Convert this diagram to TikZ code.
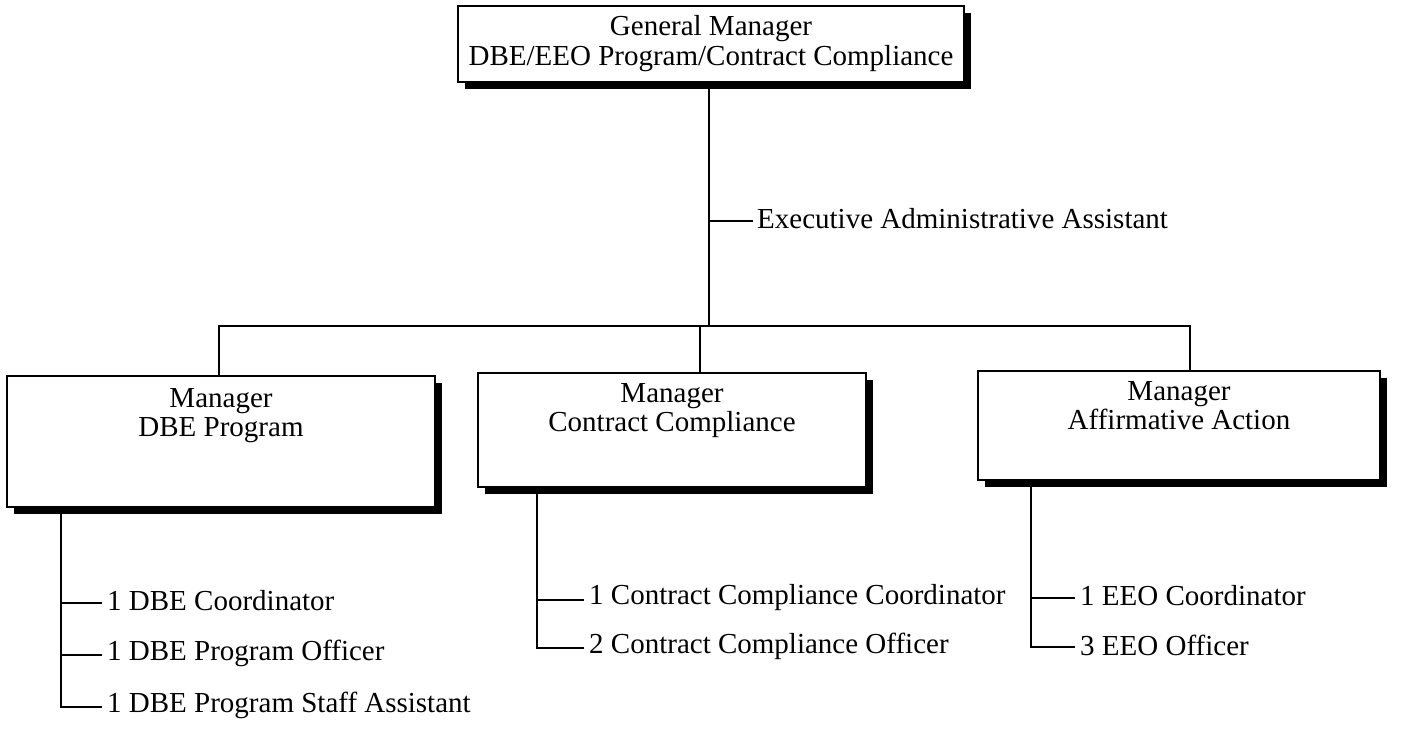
\documentclass[tikz,border=0pt]{standalone}
\usepackage{fontspec}
\setmainfont{Liberation Serif}
\usetikzlibrary{shadows}
\newcommand{\bigfs}{\fontsize{29}{29}\selectfont}
\newcommand{\topfs}{\fontsize{29}{30}\selectfont}
\tikzset{
  orgbox/.style={draw, line width=1.8pt, fill=white, inner sep=0pt, align=center,
    drop shadow={shadow xshift=7pt, shadow yshift=-7pt, fill=black, opacity=1}},
  conn/.style={line width=2.2pt, line cap=rect},
  staff/.style={anchor=west, inner sep=0pt, font=\bigfs}
}
\begin{document}
\begin{tikzpicture}[x=1pt,y=-1pt]
\useasboundingbox (0,0) rectangle (1408,731);
% boxes
\node[orgbox, minimum width=506pt, minimum height=76pt, font=\topfs] (gm) at (711,44)
  {General Manager\\DBE/EEO Program/Contract Compliance};
\node[orgbox, minimum width=428pt, minimum height=131pt] (dbe) at (221,441.5)
  {\parbox[c][131pt][t]{420pt}{\centering\bigfs\vspace{13pt}Manager\\DBE Program}};
\node[orgbox, minimum width=388pt, minimum height=114pt] (cc) at (672,430)
  {\parbox[c][114pt][t]{380pt}{\centering\bigfs\vspace{11pt}Manager\\Contract Compliance}};
\node[orgbox, minimum width=402pt, minimum height=109pt] (aa) at (1179,425.5)
  {\parbox[c][109pt][t]{395pt}{\centering\bigfs\vspace{11pt}Manager\\Affirmative Action}};
% reference x positions
\coordinate (xm) at (709,0);
\coordinate (x1) at (219,0);
\coordinate (x2) at (700,0);
\coordinate (x3) at (1190,0);
\coordinate (bus) at (709,326);
\coordinate (ea) at (752,221);
% main trunk
\draw[conn] (gm.south -| xm) -- (bus);
\draw[conn] (ea -| xm) -- (ea);
\node[staff] (eatext) at (757,219) {Executive Administrative Assistant};
% bus and drops
\draw[conn] (dbe.north -| x1) -- (x1 |- bus) -- (x3 |- bus) -- (aa.north -| x3);
\draw[conn] (x2 |- bus) -- (cc.north -| x2);
% DBE staff
\coordinate (d0) at (61,0);
\coordinate (d1) at (101,603);
\coordinate (d2) at (101,655);
\coordinate (d3) at (101,707);
\draw[conn] (dbe.south -| d0) -- (d0 |- d3) -- (d3);
\draw[conn] (d0 |- d1) -- (d1);
\draw[conn] (d0 |- d2) -- (d2);
\node[staff] (s1) at (107,601) {1 DBE Coordinator};
\node[staff] (s2) at (107,653) {1 DBE Program Officer};
\node[staff] (s3) at (107,705) {1 DBE Program Staff Assistant};
% Contract staff
\coordinate (c0) at (537,0);
\coordinate (c1) at (583,600);
\coordinate (c2) at (583,648);
\draw[conn] (cc.south -| c0) -- (c0 |- c2) -- (c2);
\draw[conn] (c0 |- c1) -- (c1);
\node[staff] (s4) at (589,598) {1 Contract Compliance Coordinator};
\node[staff] (s5) at (589,646) {2 Contract Compliance Officer};
% Affirmative staff
\coordinate (a0) at (1031,0);
\coordinate (a1) at (1074,598);
\coordinate (a2) at (1074,647);
\draw[conn] (aa.south -| a0) -- (a0 |- a2) -- (a2);
\draw[conn] (a0 |- a1) -- (a1);
\node[staff] (s6) at (1080,596) {1 EEO Coordinator};
\node[staff] (s7) at (1080,645) {3 EEO Officer};
\end{tikzpicture}
\end{document}
